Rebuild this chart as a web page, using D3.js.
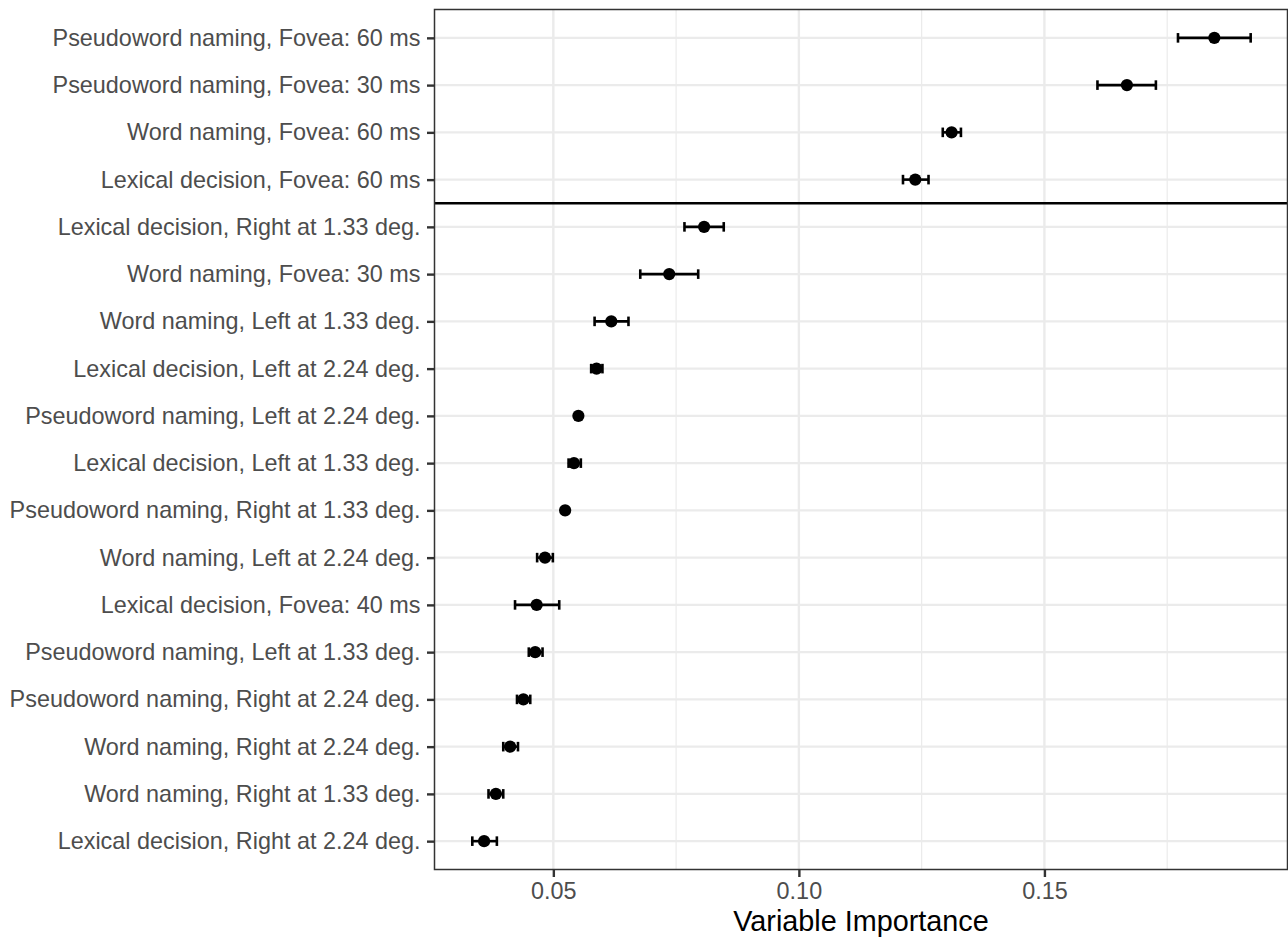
<!DOCTYPE html>
<html>
<head>
<meta charset="utf-8">
<script src="https://cdn.jsdelivr.net/npm/d3@7"></script>
<style>
html,body{margin:0;padding:0;background:#fff;}
svg{display:block;}
text{font-family:"Liberation Sans",Arial,Helvetica,sans-serif;}
</style>
</head>
<body>
<svg id="chart" width="1288" height="938"></svg>
<script>
// ---- data ----
const labels = [
  "Pseudoword naming, Fovea: 60 ms",
  "Pseudoword naming, Fovea: 30 ms",
  "Word naming, Fovea: 60 ms",
  "Lexical decision, Fovea: 60 ms",
  "Lexical decision, Right at 1.33 deg.",
  "Word naming, Fovea: 30 ms",
  "Word naming, Left at 1.33 deg.",
  "Lexical decision, Left at 2.24 deg.",
  "Pseudoword naming, Left at 2.24 deg.",
  "Lexical decision, Left at 1.33 deg.",
  "Pseudoword naming, Right at 1.33 deg.",
  "Word naming, Left at 2.24 deg.",
  "Lexical decision, Fovea: 40 ms",
  "Pseudoword naming, Left at 1.33 deg.",
  "Pseudoword naming, Right at 2.24 deg.",
  "Word naming, Right at 2.24 deg.",
  "Word naming, Right at 1.33 deg.",
  "Lexical decision, Right at 2.24 deg."
];
const importance = [0.1846, 0.1668, 0.1311, 0.1237, 0.0807, 0.0736, 0.0618, 0.0588, 0.0551, 0.0542, 0.0524, 0.0483, 0.0466, 0.0463, 0.0439, 0.0412, 0.0383, 0.0359];
const lower      = [0.1772, 0.1608, 0.1293, 0.1212, 0.0767, 0.0677, 0.0584, 0.0577, 0.0547, 0.0531, 0.0520, 0.0467, 0.0422, 0.0450, 0.0426, 0.0398, 0.0368, 0.0335];
const upper      = [0.1920, 0.1727, 0.1330, 0.1264, 0.0847, 0.0795, 0.0653, 0.0600, 0.0555, 0.0556, 0.0528, 0.0499, 0.0512, 0.0478, 0.0453, 0.0428, 0.0398, 0.0385];
const xTicks = [0.05, 0.10, 0.15];
const xMinorTicks = [0.075, 0.125, 0.175];
const xTickLabels = ["0.05", "0.10", "0.15"];
const separatorAfter = 4; // line drawn between row 4 and row 5
const xTitle = "Variable Importance";

const rows = labels.map((l, i) => ({label: l, v: importance[i], lo: lower[i], hi: upper[i]}));

// ---- layout ----
const svg = d3.select("#chart");
const P = {left: 434.5, right: 1287.5, top: 9.5, bottom: 869.5};

const x = d3.scaleLinear().domain([0.0258, 0.1995]).range([P.left, P.right]);
const y = d3.scalePoint().domain(labels).range([P.top, P.bottom]).padding(0.6);

const g = svg.append("g");

// panel background
g.append("rect").attr("x", P.left).attr("y", P.top)
  .attr("width", P.right - P.left).attr("height", P.bottom - P.top)
  .attr("fill", "#fff");

// minor x grid
g.selectAll(".minor").data(xMinorTicks).enter().append("line")
  .attr("x1", d => x(d)).attr("x2", d => x(d))
  .attr("y1", P.top).attr("y2", P.bottom)
  .attr("stroke", "#EBEBEB").attr("stroke-width", 1.2);
// major x grid
g.selectAll(".majx").data(xTicks).enter().append("line")
  .attr("x1", d => x(d)).attr("x2", d => x(d))
  .attr("y1", P.top).attr("y2", P.bottom)
  .attr("stroke", "#EBEBEB").attr("stroke-width", 2.4);
// major y grid
g.selectAll(".majy").data(labels).enter().append("line")
  .attr("x1", P.left).attr("x2", P.right)
  .attr("y1", d => y(d)).attr("y2", d => y(d))
  .attr("stroke", "#EBEBEB").attr("stroke-width", 2.4);

// separator line
const sepY = (y(labels[separatorAfter - 1]) + y(labels[separatorAfter])) / 2;
g.append("line").attr("x1", P.left).attr("x2", P.right)
  .attr("y1", sepY).attr("y2", sepY)
  .attr("stroke", "#000").attr("stroke-width", 2.4);

// error bars
const cap = 4.8;
const ebw = 2.6;
const eb = g.selectAll(".eb").data(rows).enter().append("g");
eb.append("line").attr("x1", d => x(d.lo)).attr("x2", d => x(d.hi))
  .attr("y1", d => y(d.label)).attr("y2", d => y(d.label))
  .attr("stroke", "#000").attr("stroke-width", ebw);
eb.append("line").attr("x1", d => x(d.lo)).attr("x2", d => x(d.lo))
  .attr("y1", d => y(d.label) - cap).attr("y2", d => y(d.label) + cap)
  .attr("stroke", "#000").attr("stroke-width", ebw);
eb.append("line").attr("x1", d => x(d.hi)).attr("x2", d => x(d.hi))
  .attr("y1", d => y(d.label) - cap).attr("y2", d => y(d.label) + cap)
  .attr("stroke", "#000").attr("stroke-width", ebw);

// points
g.selectAll(".pt").data(rows).enter().append("circle")
  .attr("cx", d => x(d.v)).attr("cy", d => y(d.label)).attr("r", 6.1)
  .attr("fill", "#000");

// panel border
g.append("rect").attr("x", P.left).attr("y", P.top)
  .attr("width", P.right - P.left).attr("height", P.bottom - P.top)
  .attr("fill", "none").attr("stroke", "#333333").attr("stroke-width", 1.5);

// x axis
const xAxis = d3.axisBottom(x).tickValues(xTicks)
  .tickFormat((d, i) => xTickLabels[i]).tickSize(7.5).tickPadding(5);
const xa = svg.append("g").attr("transform", `translate(0,${P.bottom})`).call(xAxis);
xa.select(".domain").remove();
xa.selectAll(".tick line").attr("stroke", "#333333").attr("stroke-width", 2.4);
xa.selectAll(".tick text").attr("fill", "#4D4D4D").style("font-size", "23.4px")
  .attr("font-family", null);

// y axis
const yAxis = d3.axisLeft(y).tickSize(7.5).tickPadding(6.5);
const ya = svg.append("g").attr("transform", `translate(${P.left},0)`).call(yAxis);
ya.select(".domain").remove();
ya.selectAll(".tick line").attr("stroke", "#333333").attr("stroke-width", 2.4);
ya.selectAll(".tick text").attr("fill", "#4D4D4D").style("font-size", "23.4px")
  .attr("font-family", null);

// axis title
svg.append("text").attr("x", (P.left + P.right) / 2).attr("y", 931)
  .attr("text-anchor", "middle").attr("fill", "#000")
  .style("font-size", "28.8px").text(xTitle);
</script>
</body>
</html>
